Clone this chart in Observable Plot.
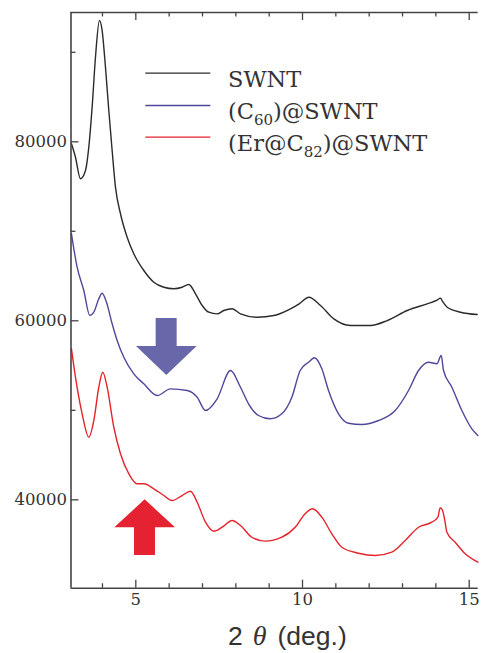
<!DOCTYPE html>
<html>
<head>
<meta charset="utf-8">
<script src="https://cdn.jsdelivr.net/npm/d3@7"></script>
<script src="https://cdn.jsdelivr.net/npm/@observablehq/plot@0.6"></script>
<style>
  body { margin: 0; background: #fff; }
  #chart { width: 485px; height: 653px; }
</style>
</head>
<body>
<div id="chart"></div>
<script>
// ---- data (2θ in degrees, intensity in counts) ----
const xSWNT = [3.07,3.19,3.34,3.49,3.59,3.69,3.79,3.91,3.99,4.09,4.19,4.29,4.39,4.54,4.74,4.94,5.24,5.54,5.84,6.14,6.39,6.59,6.79,6.99,7.19,7.44,7.64,7.89,8.14,8.64,9.14,9.64,9.9,10.19,10.54,10.94,11.44,12.04,12.54,13.14,13.74,14.02,14.14,14.2,14.34,14.74,15.24];
const ySWNT = [79780,78280,75870,76790,79400,83870,89450,93550,92430,88330,83500,79030,74930,71960,69340,67490,65620,64310,63750,63580,63750,64060,63020,61710,60960,60780,61150,61340,60780,60400,60590,61340,61900,62640,61710,60220,59480,59480,60030,61150,61900,62270,62530,62160,61520,60960,60700];

const xC60 = [3.07,3.24,3.44,3.62,3.74,3.89,3.99,4.12,4.29,4.44,4.64,4.94,5.24,5.64,6.04,6.54,6.84,7.09,7.44,7.84,8.14,8.38,8.68,9.03,9.38,9.68,9.93,10.18,10.36,10.58,10.78,11.08,11.38,11.78,12.28,12.78,13.18,13.48,13.78,14.03,14.16,14.23,14.48,14.78,15.08,15.26];
const yC60 = [69720,65990,63390,60590,60960,62460,63080,62080,59670,57800,55930,54080,52960,51650,52400,52210,51460,49980,51290,54450,52580,50730,49420,49050,49610,51460,54450,55370,55870,54640,52210,49610,48560,48410,48860,49980,52210,54450,55370,55200,56120,54450,52580,49980,47930,47190];

const xEr = [3.07,3.19,3.39,3.59,3.74,3.89,4.01,4.14,4.34,4.54,4.79,5.04,5.24,5.54,5.84,6.09,6.39,6.64,6.84,7.09,7.34,7.59,7.89,8.14,8.48,8.88,9.38,9.78,10.08,10.30,10.58,10.88,11.18,11.68,12.18,12.68,13.08,13.48,13.88,14.06,14.13,14.20,14.26,14.33,14.58,14.88,15.26];
const yEr = [56870,53700,49610,47000,48860,52580,54260,52580,48110,45140,42910,41790,41790,41230,40480,39920,40480,40960,39730,37500,36490,36940,37690,37130,35820,35380,35820,36940,38440,39000,38060,36200,34700,34030,33780,34150,35450,36940,37500,38060,39110,38800,37880,36380,35260,33970,33030];

const seriesColors = ["#2b2b2b", "#4e4899", "#e4232b"];
const legendMain = [["SWNT"], ["(C", ")@SWNT"], ["(Er@C", ")@SWNT"]];
const legendSub = [null, "60", "82"];            // subscripts in labels
const legendY = [87665, 84056, 80514];           // legend rows (intensity units)
const legendX = [5.3, 7.25];                     // legend line span (2θ)
const legendTextX = 7.78;

// axis settings
const X_DOMAIN = [3.056, 15.27];
const Y_DOMAIN = [30125, 94447];
const xMajor = [5, 10, 15];
const xMinor = [4, 6, 7, 8, 9, 11, 12, 13, 14];
const yMajor = [40000, 60000, 80000];
const yMinor = [50000, 70000, 90000];
const xTitleParts = ["2", "θ", "(deg.)"];

// annotation arrows (2θ, intensity)
const blueArrowShaft = [{x1: 5.61, x2: 6.24, y1: 57000, y2: 60260}];
const blueArrowHeadX = [5.02, 5.93, 6.84];
const blueArrowHeadY = [57130, 53890, 57130];
const redArrowShaft = [{x1: 4.96, x2: 5.59, y1: 33780, y2: 37000}];
const redArrowHeadX = [4.37, 5.28, 6.19];
const redArrowHeadY = [36870, 40000, 36870];
const blueArrowBase = 57130, redArrowBase = 36870;

// ---- build tables ----
const rows = [];
[[xSWNT, ySWNT, 0], [xC60, yC60, 1], [xEr, yEr, 2]].forEach(([xs, ys, i]) => {
  xs.forEach((x, j) => rows.push({x, y: ys[j], s: i, color: seriesColors[i]}));
});
const blueHead = blueArrowHeadX.map((x, i) => ({x, y1: blueArrowBase, y2: blueArrowHeadY[i]}));
const redHead = redArrowHeadX.map((x, i) => ({x, y1: redArrowBase, y2: redArrowHeadY[i]}));
const legendRows = legendY.map((y, i) => ({y, color: seriesColors[i]}));

const W = 485, H = 653, mL = 70.5, mR = 7.3, mT = 12, mB = 65.3;
const fw = W - mL - mR, fh = H - mT - mB;
const axisColor = "#444";
// tick lengths expressed in data units
const xPerPx = (X_DOMAIN[1] - X_DOMAIN[0]) / fw;
const yPerPx = (Y_DOMAIN[1] - Y_DOMAIN[0]) / fh;
const majLen = 8, minLen = 4.5;
const tickStyle = {stroke: axisColor, strokeWidth: 1.3};

const plot = Plot.plot({
  width: W, height: H,
  marginLeft: mL, marginRight: mR, marginTop: mT, marginBottom: mB,
  x: {domain: X_DOMAIN},
  y: {domain: Y_DOMAIN},
  color: {type: "identity"},
  style: {fontFamily: "DejaVu Serif", fontSize: "16px", color: "#333", background: "#fff", overflow: "visible"},
  marks: [
    Plot.rect(blueArrowShaft, {x1: "x1", x2: "x2", y1: "y1", y2: "y2", fill: "#6767aa"}),
    Plot.areaY(blueHead, {x: "x", y1: "y1", y2: "y2", fill: "#6767aa"}),
    Plot.rect(redArrowShaft, {x1: "x1", x2: "x2", y1: "y1", y2: "y2", fill: "#e52231"}),
    Plot.areaY(redHead, {x: "x", y1: "y1", y2: "y2", fill: "#e52231"}),
    Plot.line(rows, {x: "x", y: "y", z: "s", stroke: "color", strokeWidth: 1.4, curve: "monotone-x"}),
    Plot.ruleX([X_DOMAIN[0]], {stroke: axisColor, strokeWidth: 1.6}),
    Plot.ruleY(Y_DOMAIN, {stroke: axisColor, strokeWidth: 1.6}),
    // bottom & top ticks (pointing inward)
    Plot.ruleX(xMajor, {x: d => d, y1: Y_DOMAIN[0], y2: Y_DOMAIN[0] + majLen * yPerPx, ...tickStyle}),
    Plot.ruleX(xMajor, {x: d => d, y1: Y_DOMAIN[1], y2: Y_DOMAIN[1] - majLen * yPerPx, ...tickStyle}),
    Plot.ruleX(xMinor, {x: d => d, y1: Y_DOMAIN[0], y2: Y_DOMAIN[0] + minLen * yPerPx, ...tickStyle}),
    Plot.ruleX(xMinor, {x: d => d, y1: Y_DOMAIN[1], y2: Y_DOMAIN[1] - minLen * yPerPx, ...tickStyle}),
    // left ticks (pointing inward)
    Plot.ruleY(yMajor, {y: d => d, x1: X_DOMAIN[0], x2: X_DOMAIN[0] + majLen * xPerPx, ...tickStyle}),
    Plot.ruleY(yMinor, {y: d => d, x1: X_DOMAIN[0], x2: X_DOMAIN[0] + 5 * xPerPx, ...tickStyle}),
    Plot.axisX({ticks: xMajor, tickSize: 0, tickPadding: 5, tickFormat: d => String(d), label: null, fontSize: 16.5}),
    Plot.axisY({ticks: yMajor, tickSize: 0, tickPadding: 4, tickFormat: d => String(d), label: null, fontSize: 16.5}),
    Plot.ruleY(legendRows, {y: "y", x1: legendX[0], x2: legendX[1], stroke: "color", strokeWidth: 1.3})
  ]
});

document.getElementById("chart").appendChild(plot);

// ---- legend labels with subscripts ----
const svg = d3.select(plot);
const sx = plot.scale("x"), sy = plot.scale("y");
const g = svg.append("g")
  .attr("font-family", "DejaVu Serif")
  .attr("font-size", 22.5)
  .attr("text-anchor", "start")
  .attr("fill", "#333");
legendMain.forEach((parts, i) => {
  const t = g.append("text")
    .attr("text-anchor", "start")
    .attr("x", sx.apply(legendTextX))
    .attr("y", sy.apply(legendY[i]) + 14);
  t.append("tspan").text(parts[0]);
  if (legendSub[i]) {
    t.append("tspan").attr("font-size", 15).attr("dy", 6).text(legendSub[i]);
    t.append("tspan").attr("dy", -6).text(parts[1]);
  }
});

// ---- x axis title ----
const xt = svg.append("text")
  .attr("x", sx.apply(legendTextX))
  .attr("y", 645)
  .attr("text-anchor", "start")
  .attr("font-family", "Liberation Sans, Arial, sans-serif")
  .attr("font-size", 26.5)
  .attr("fill", "#333");
xt.append("tspan").text(xTitleParts[0]);
xt.append("tspan").attr("dx", 10).attr("font-style", "italic").attr("font-family", "Liberation Serif, serif").attr("font-size", 28).text(xTitleParts[1]);
xt.append("tspan").attr("dx", 11).text(xTitleParts[2]);
</script>
</body>
</html>
